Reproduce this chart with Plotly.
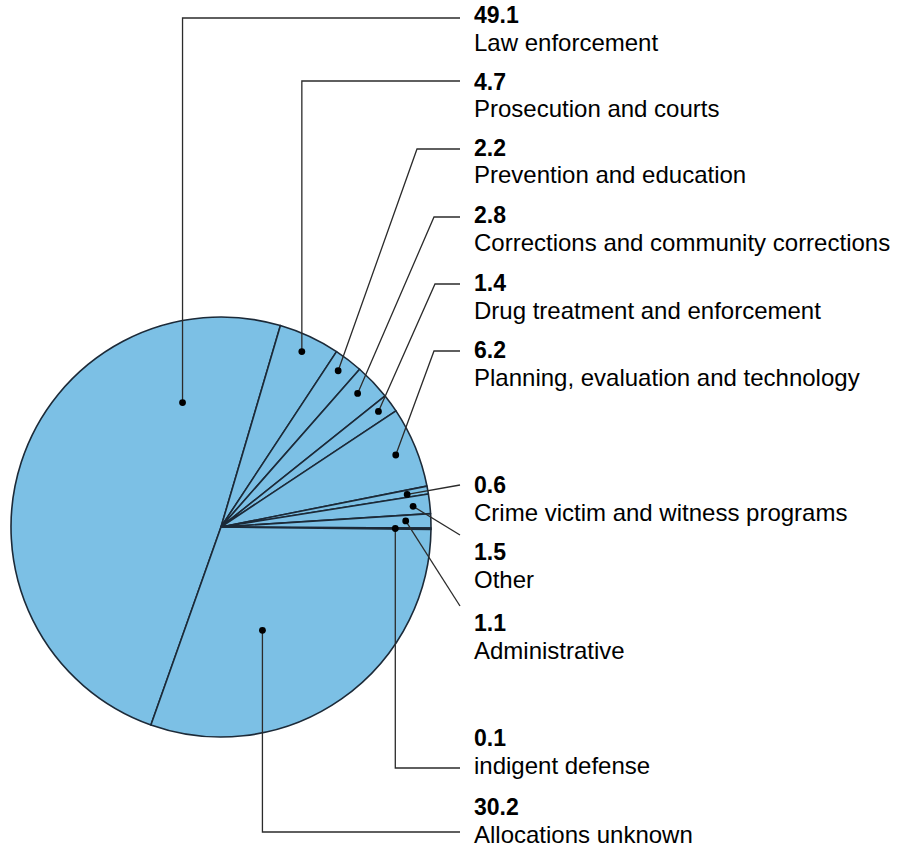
import math
import plotly.graph_objects as go

# ---------------- data ----------------
categories = [
    "Law enforcement",
    "Prosecution and courts",
    "Prevention and education",
    "Corrections and community corrections",
    "Drug treatment and enforcement",
    "Planning, evaluation and technology",
    "Crime victim and witness programs",
    "Other",
    "Administrative",
    "indigent defense",
    "Allocations unknown",
]
values = [49.1, 4.7, 2.2, 2.8, 1.4, 6.2, 0.6, 1.5, 1.1, 0.1, 30.2]
value_labels = ["49.1", "4.7", "2.2", "2.8", "1.4", "6.2", "0.6", "1.5", "1.1", "0.1", "30.2"]

# ---------------- layout / styling ----------------
W, H = 904, 847
CX, CY, R = 221, 527, 210          # pie centre and radius in px
ROTATION = 199.5
FILL = "#7cc0e5"
EDGE = "#1c2a38"
LEADER = "#2b2b2b"
FONT = "Liberation Sans, Arial, sans-serif"
FS_NUM = 23
FS_TXT = 24

# where in each slice the dot sits: (fraction of slice angle, fraction of radius)
dot_ang_frac = [0.81, 0.49, 0.44, 0.43, 0.46, 0.50, 0.60, 0.54, 0.45, 0.5, 0.62]
dot_rad_frac = [0.62, 0.92, 0.93, 0.91, 0.93, 0.90, 0.90, 0.92, 0.88, 0.83, 0.53]

# label block: y of bold number (px); text sits below
num_y = [15, 82, 148, 215, 283, 350, 485, 552, 623, 738, 807]
TEXT_DY = 27
LABEL_X = 472
LINE_END_X = 460
# leader routes: kind, elbow x (for slant), line y
routes = [
    ("vert", None, 18),
    ("vert", None, 81),
    ("slant", 417, 149),
    ("slant", 434, 217),
    ("slant", 435, 284),
    ("slant", 434, 351),
    ("direct", None, 485),
    ("direct", None, 535),
    ("direct", None, 606),
    ("vert", None, 768),
    ("vert", None, 832),
]


def px(x):
    return x / W


def py(y):
    return 1 - y / H


fig = go.Figure()
fig.add_trace(go.Pie(
    labels=categories,
    values=values,
    sort=False,
    direction="clockwise",
    rotation=ROTATION,
    textinfo="none",
    hoverinfo="label+value",
    showlegend=False,
    marker=dict(colors=[FILL] * len(values), line=dict(color=EDGE, width=1.6)),
    domain=dict(x=[px(CX - R), px(CX + R)], y=[py(CY + R), py(CY - R)]),
))

# compute dot positions from the data
total = sum(values)
shapes = []
annotations = []
cum = 0.0
for i, v in enumerate(values):
    start = ROTATION + 360.0 * cum / total
    span = 360.0 * v / total
    cum += v
    a = math.radians(start + dot_ang_frac[i] * span)
    r = dot_rad_frac[i] * R
    dx = CX + r * math.sin(a)
    dy = CY - r * math.cos(a)

    kind, ex, ly = routes[i]
    if kind == "vert":
        pts = [(dx, dy), (dx, ly), (LINE_END_X, ly)]
    elif kind == "slant":
        pts = [(dx, dy), (ex, ly), (LINE_END_X, ly)]
    else:
        pts = [(dx, dy), (LINE_END_X, ly)]
    path = "M " + " L ".join(f"{px(x):.5f},{py(y):.5f}" for x, y in pts)
    shapes.append(dict(type="path", path=path, xref="paper", yref="paper",
                       line=dict(color=LEADER, width=1.3), layer="above"))
    rr = 3.4
    shapes.append(dict(type="circle", xref="paper", yref="paper",
                       x0=px(dx - rr), x1=px(dx + rr), y0=py(dy + rr), y1=py(dy - rr),
                       fillcolor="#000000", line=dict(color="#000000", width=0), layer="above"))

    annotations.append(dict(x=px(LABEL_X), y=py(num_y[i]), xref="paper", yref="paper",
                            xanchor="left", yanchor="middle", showarrow=False,
                            text=f"<b>{value_labels[i]}</b>",
                            font=dict(family=FONT, size=FS_NUM, color="#000000")))
    annotations.append(dict(x=px(LABEL_X), y=py(num_y[i] + TEXT_DY), xref="paper", yref="paper",
                            xanchor="left", yanchor="middle", showarrow=False,
                            text=categories[i],
                            font=dict(family=FONT, size=FS_TXT, color="#000000")))

fig.update_layout(
    width=W, height=H,
    margin=dict(l=0, r=0, t=0, b=0),
    paper_bgcolor="white", plot_bgcolor="white",
    shapes=shapes, annotations=annotations,
    showlegend=False,
)
fig.write_html("out.html",
               config={"displayModeBar": False},
               post_script="document.body.style.margin='0';document.body.style.padding='0';")
